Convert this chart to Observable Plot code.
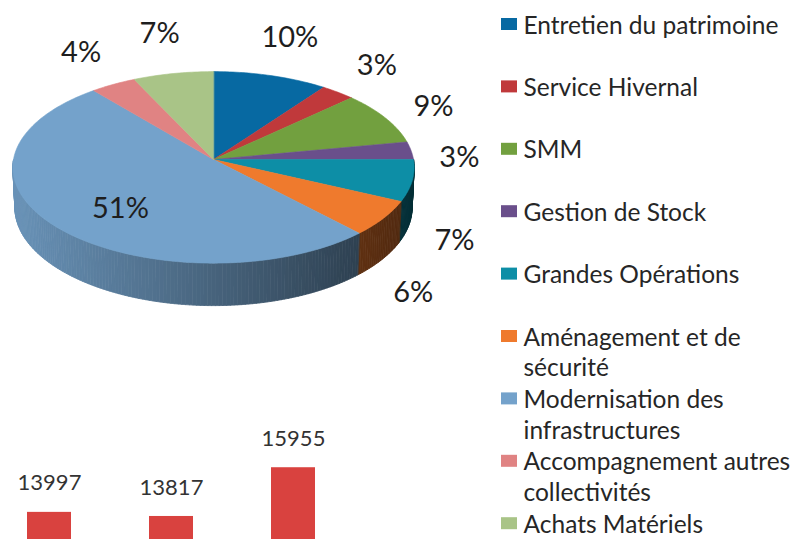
<!DOCTYPE html>
<html>
<head>
<meta charset="utf-8">
<script src="https://cdn.jsdelivr.net/npm/d3@7"></script>
<script src="https://cdn.jsdelivr.net/npm/@observablehq/plot@0.6"></script>
<style>
  html, body { margin: 0; padding: 0; background: #fff; }
  #wrap { position: relative; width: 806px; height: 539px; overflow: hidden; background: #fff; }
  #wrap svg { position: absolute; left: 0; top: 0; background: transparent; }
</style>
</head>
<body>
<div id="wrap"></div>
<script>
// ---- Data (pie) ----
const categories = [
  "Entretien du patrimoine",
  "Service Hivernal",
  "SMM",
  "Gestion de Stock",
  "Grandes Opérations",
  "Aménagement et de\nsécurité",
  "Modernisation des\ninfrastructures",
  "Accompagnement autres\ncollectivités",
  "Achats Matériels"
];
const shares = [10, 3, 9, 3, 7, 6, 51, 4, 7];
const sliceColors = [
  "#0769a2", "#c0393b", "#72a03f", "#6a4f8b", "#0d8ea6",
  "#ef7a2d", "#74a2cb", "#e08383", "#a9c487"
];

// ---- Data (bars, partially visible) ----
const barCategories = ["Barre 1", "Barre 2", "Barre 3"];
const barValues = [13997, 13817, 15955];

// ---- Layout constants ----
const W = 806, H = 539;
const tilt = 28.4 * Math.PI / 180;
const P = {cx: 213, cy: 159, S: 200, D: 10.7, h: 0.23};
const LBL = {A: 247, B: 140, cy: 170, front: 40};
const FONT = "Lato, 'Open Sans', sans-serif";

function proj(a, r, z) {
  const x = r * Math.sin(a), yw = -r * Math.cos(a);
  const c = Math.cos(tilt), s = Math.sin(tilt);
  const d = yw * c + z * s, u = z * c - yw * s;
  const k = P.D / (P.D - d);
  return [P.cx + P.S * x * k, P.cy - P.S * u * k];
}

const table = categories.map((name, i) => ({name, share: shares[i], color: sliceColors[i], i}));
const arcs = d3.pie().sort(null).value(d => d.share)(table);
const DEG = Math.PI / 180;

// top faces
const topPts = [];
arcs.forEach(a => {
  const id = a.data.name, color = a.data.color;
  topPts.push({id, x: P.cx, y: P.cy, color});
  const n = Math.max(2, Math.ceil((a.endAngle - a.startAngle) / DEG));
  for (let j = 0; j <= n; j++) {
    const t = a.startAngle + (a.endAngle - a.startAngle) * j / n;
    const [x, y] = proj(t, 1, 0);
    topPts.push({id, x, y, color});
  }
});

// side strips (front half only), shaded left-to-right
const sidePts = [];
arcs.forEach(a => {
  const lo = Math.max(a.startAngle, Math.PI / 2), hi = Math.min(a.endAngle, 3 * Math.PI / 2);
  if (hi <= lo) return;
  const n = Math.max(1, Math.ceil((hi - lo) / DEG));
  for (let j = 0; j < n; j++) {
    const t1 = lo + (hi - lo) * j / n, t2 = lo + (hi - lo) * (j + 1) / n;
    const p1 = proj(t1, 1, 0), p2 = proj(t2, 1, 0), q2 = proj(t2, 1, -P.h), q1 = proj(t1, 1, -P.h);
    const xm = (p1[0] + p2[0]) / 2;
    const k = 0.1 + 0.58 * Math.max(0, Math.min(1, (xm - 14) / 400));
    const color = d3.interpolateRgb(a.data.color, "#000")(k);
    const id = a.data.name + "-" + j;
    [p1, p2, q2, q1].forEach(([x, y]) => sidePts.push({id, x, y, color}));
  }
});

// percentage labels
const labelPts = arcs.map(a => {
  const m = (a.startAngle + a.endAngle) / 2;
  const text = a.data.share + "%";
  if (a.data.share > 30) {
    const [x, y] = proj(m, 0.6, 0);
    return {x, y: y + 10, text};
  }
  const front = Math.cos(m) < 0;
  return {
    x: P.cx + LBL.A * Math.sin(m),
    y: LBL.cy - LBL.B * Math.cos(m) + (front ? LBL.front : 0),
    text
  };
});

// legend
const LG = {x0: 501, sq: 16, sqH: 12, tx: 523, base0: 33, step: 62.4, fs: 24.5, lh: 31 / 24.5};
const legend = table.map(d => ({...d, base: LG.base0 + LG.step * d.i}));

const main = Plot.plot({
  width: W, height: H,
  margin: 0,
  x: {domain: [0, W], range: [0, W], axis: null},
  y: {domain: [0, H], range: [0, H], axis: null},
  color: {type: "identity"},
  style: {fontFamily: FONT, background: "transparent"},
  marks: [
    Plot.line(sidePts, {x: "x", y: "y", z: "id", fill: "color", stroke: "color", strokeWidth: 0.8, curve: "linear-closed"}),
    Plot.line(topPts, {x: "x", y: "y", z: "id", fill: "color", stroke: "color", strokeWidth: 0.6, curve: "linear-closed"}),
    Plot.text(labelPts, {x: "x", y: "y", text: "text", fontSize: 29, fill: "#1e1e1e", fontFamily: FONT}),
    Plot.rect(legend, {x1: () => LG.x0, x2: () => LG.x0 + LG.sq, y1: d => d.base - 15, y2: d => d.base - 15 + LG.sqH, fill: "color"}),
    Plot.text(legend, {x: () => LG.tx, y: d => d.base - 0.71 * LG.lh * LG.fs, text: "name", textAnchor: "start", lineAnchor: "top",
      lineHeight: LG.lh, fontSize: LG.fs, fill: "#262626", fontFamily: FONT})
  ]
});

// bar chart (only its top part is visible)
const barData = barCategories.map((cat, i) => ({cat, value: barValues[i]}));
const BH = 456, BTOP = 375;
const bars = Plot.plot({
  width: 343, height: BH,
  margin: 0,
  x: {domain: barCategories, range: [0, 343], paddingInner: 0.639, paddingOuter: 0.225, axis: null},
  y: {domain: [0, 20000], axis: null},
  style: {fontFamily: FONT, background: "transparent"},
  marks: [
    Plot.barY(barData, {x: "cat", y: "value", fill: "#d9423f"}),
    Plot.text(barData, {x: "cat", y: "value", text: d => String(d.value), dy: -29, fontSize: 22, fill: "#333", fontFamily: FONT})
  ]
});
bars.style.top = BTOP + "px";

const wrap = document.getElementById("wrap");
wrap.appendChild(main);
wrap.appendChild(bars);
</script>
</body>
</html>
